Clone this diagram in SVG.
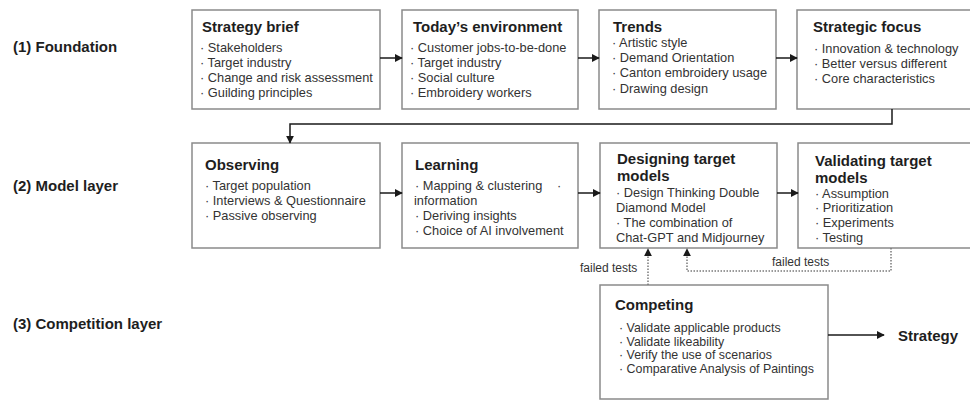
<svg xmlns="http://www.w3.org/2000/svg" width="970" height="401" viewBox="0 0 970 401">
  <defs>
    <marker id="arrow" viewBox="0 0 10 10" refX="9" refY="5" markerWidth="8" markerHeight="8" markerUnits="userSpaceOnUse" orient="auto">
      <path d="M0,0 L10,5 L0,10 z" fill="#1a1a1a"/>
    </marker>
  </defs>
  <style>
    text { font-family: "Liberation Sans", Arial, sans-serif; fill: #262626; }
    .box { fill: #ffffff; stroke: #8a8a8a; stroke-width: 1.5; }
    .title { font-size: 15px; font-weight: bold; fill: #1e1e1e; }
    .item { font-size: 12.8px; fill: #333333; }
    .small { font-size: 12.4px; }
    .layer { font-size: 15px; font-weight: bold; fill: #1e1e1e; }
    .note { font-size: 12px; fill: #333333; }
    .flow { fill: none; stroke: #1a1a1a; stroke-width: 1.5; marker-end: url(#arrow); }
    .retry { fill: none; stroke: #7a7a7a; stroke-width: 1.5; stroke-dasharray: 1.5 1.5; marker-end: url(#arrow); }
  </style>

  <rect width="970" height="401" fill="#ffffff"/>

  <!-- layer labels -->
  <g id="layer-labels">
    <text class="layer" x="13" y="52">(1) Foundation</text>
    <text class="layer" x="13" y="191">(2) Model layer</text>
    <text class="layer" x="13" y="329">(3) Competition layer</text>
  </g>

  <!-- foundation row -->
  <g id="strategy-brief">
    <rect class="box" x="192" y="10" width="188" height="99"/>
    <text class="title" x="202" y="32">Strategy brief</text>
    <text class="item" x="200" y="52">· Stakeholders</text>
    <text class="item" x="200" y="67">· Target industry</text>
    <text class="item" x="200" y="82">· Change and risk assessment</text>
    <text class="item" x="200" y="97">· Guilding principles</text>
  </g>
  <g id="todays-environment">
    <rect class="box" x="402" y="10" width="176" height="99"/>
    <text class="title" x="413" y="32">Today’s environment</text>
    <text class="item" x="410" y="52">· Customer jobs-to-be-done</text>
    <text class="item" x="410" y="67">· Target industry</text>
    <text class="item" x="410" y="82">· Social culture</text>
    <text class="item" x="410" y="97">· Embroidery workers</text>
  </g>
  <g id="trends">
    <rect class="box" x="599" y="10" width="177" height="99"/>
    <text class="title" x="613" y="32">Trends</text>
    <text class="item" x="612" y="47">· Artistic style</text>
    <text class="item" x="612" y="62">· Demand Orientation</text>
    <text class="item" x="612" y="77">· Canton embroidery usage</text>
    <text class="item" x="612" y="93">· Drawing design</text>
  </g>
  <g id="strategic-focus">
    <rect class="box" x="797" y="10" width="185" height="99"/>
    <text class="title" x="813" y="32">Strategic focus</text>
    <text class="item" x="814" y="53">· Innovation &amp; technology</text>
    <text class="item" x="814" y="68">· Better versus different</text>
    <text class="item" x="814" y="83">· Core characteristics</text>
  </g>

  <!-- model row -->
  <g id="observing">
    <rect class="box" x="192" y="143" width="188" height="105"/>
    <text class="title" x="205" y="170">Observing</text>
    <text class="item" x="205" y="190">· Target population</text>
    <text class="item" x="205" y="205">· Interviews &amp; Questionnaire</text>
    <text class="item" x="205" y="220">· Passive observing</text>
  </g>
  <g id="learning">
    <rect class="box" x="402" y="143" width="176" height="105"/>
    <text class="title" x="415" y="170">Learning</text>
    <text class="item" x="415" y="190">· Mapping &amp; clustering</text>
    <text class="item" x="557" y="190">·</text>
    <text class="item" x="414" y="205">information</text>
    <text class="item" x="415" y="220">· Deriving insights</text>
    <text class="item" x="415" y="235">· Choice of AI involvement</text>
  </g>
  <g id="designing-target-models">
    <rect class="box" x="600" y="143" width="177" height="105"/>
    <text class="title" x="617" y="164">Designing target</text>
    <text class="title" x="617" y="181">models</text>
    <text class="item" x="616" y="197">· Design Thinking Double</text>
    <text class="item" x="616" y="212">Diamond Model</text>
    <text class="item" x="616" y="227">· The combination of</text>
    <text class="item" x="616" y="242">Chat-GPT and Midjourney</text>
  </g>
  <g id="validating-target-models">
    <rect class="box" x="798" y="143" width="184" height="105"/>
    <text class="title" x="815" y="166">Validating target</text>
    <text class="title" x="815" y="183">models</text>
    <text class="item" x="815" y="198">· Assumption</text>
    <text class="item" x="815" y="212">· Prioritization</text>
    <text class="item" x="815" y="227">· Experiments</text>
    <text class="item" x="815" y="242">· Testing</text>
  </g>

  <!-- competition row -->
  <g id="competing">
    <rect class="box" x="600" y="285" width="228" height="114"/>
    <text class="title" x="615" y="310">Competing</text>
    <text class="item small" x="619" y="332">· Validate applicable products</text>
    <text class="item small" x="619" y="345.5">· Validate likeability</text>
    <text class="item small" x="619" y="359">· Verify the use of scenarios</text>
    <text class="item small" x="619" y="372.5">· Comparative Analysis of Paintings</text>
  </g>
  <g id="strategy">
    <text class="title" x="898" y="341">Strategy</text>
  </g>

  <!-- connectors -->
  <g id="connectors">
    <path class="flow" d="M380,58 H402"/>
    <path class="flow" d="M578,58 H599"/>
    <path class="flow" d="M776,58 H797"/>
    <path class="flow" d="M892,109 V124 H290 V143"/>
    <path class="flow" d="M380,193 H402"/>
    <path class="flow" d="M578,193 H600"/>
    <path class="flow" d="M777,193 H798"/>
    <path class="flow" d="M828,335 H884"/>
    <path class="retry" d="M648,285 V249"/>
    <path class="retry" d="M891,248 V271 H687 V249"/>
    <text class="note" x="580" y="272">failed tests</text>
    <text class="note" x="772" y="266">failed tests</text>
  </g>
</svg>
